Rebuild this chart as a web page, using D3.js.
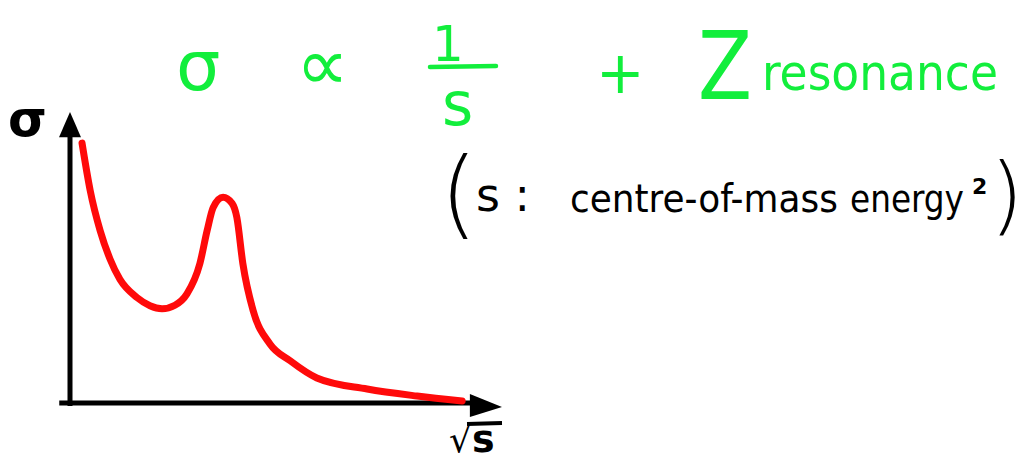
<!DOCTYPE html>
<html>
<head>
<meta charset="utf-8">
<script src="https://cdn.jsdelivr.net/npm/d3@7"></script>
<style>
  html, body { margin: 0; padding: 0; background: #fff; }
  svg { display: block; }
  text { font-family: "DejaVu Sans", sans-serif; }
  .cond { font-family: "DejaVu Sans Condensed", "DejaVu Sans", sans-serif; }
</style>
</head>
<body>
<svg id="chart" width="1029" height="461"></svg>
<script>
// Sketch of the cross-section: 1/s fall-off plus the Z resonance peak
const sqrtS = [2.8, 4.7, 7.0, 9.3, 11.6, 15.6, 18.6, 21.4, 24.4, 27.2, 30.2, 31.9, 33.3, 35.6,
               37.7, 38.8, 40.2, 42.6, 46.5, 51.2, 57.4, 69.1, 80.7, 91.2];
const sigma = [89.3, 73.0, 59.3, 49.5, 42.5, 36.2, 33.4, 32.4, 33.6, 37.5, 47.9, 59.3, 67.2, 70.7,
               68.6, 63.8, 47.9, 31.7, 20.3, 14.5, 8.6, 4.8, 2.4, 0.7];

const axisLabels = { y: "σ", x: "s" };
const formulaParts = ["σ", "∝", "1", "s", "+", "Z", "resonance"];
const noteParts = ["(", "s :", "centre-of-mass", "energy", "2", ")"];

const GREEN = "#12ee3c";
const RED = "#ff0a0a";

const svg = d3.select("#chart");
svg.append("rect").attr("width", 1029).attr("height", 461).attr("fill", "#fff");

// Scale a text's font size so that its natural width equals the given width
function fitWidth(sel, width) {
  const node = sel.node();
  const fs = +sel.attr("font-size");
  const w = node.getComputedTextLength();
  sel.attr("font-size", (fs * width / w).toFixed(2));
  return sel;
}

const x = d3.scaleLinear().domain([0, 100]).range([70, 500]);
const y = d3.scaleLinear().domain([0, 100]).range([403, 112]);

// Axes: bare domain lines, no ticks
const yAxis = d3.axisLeft(y).tickValues([]).tickSizeOuter(0);
const gy = svg.append("g").attr("transform", `translate(${x(0)},0)`).call(yAxis);
gy.select(".domain").attr("stroke", "#000").attr("stroke-width", 5)
  .attr("d", `M0,${y(-1)}V${y(92)}`);

const xAxis = d3.axisBottom(x).tickValues([]).tickSizeOuter(0);
const gx = svg.append("g").attr("transform", `translate(0,${y(0)})`).call(xAxis);
gx.select(".domain").attr("stroke", "#000").attr("stroke-width", 5)
  .attr("d", `M${x(-2.5)},0H${x(95)}`);

// Arrow heads
svg.append("path")
  .attr("d", `M${x(0)},${y(100)} L${x(0) - 11},${y(92) + 2} L${x(0) + 11},${y(92) + 2} Z`)
  .attr("fill", "#000");
svg.append("path")
  .attr("d", `M${x(100) + 2},${y(0) + 4} L${x(93)},${y(0) - 9} L${x(93)},${y(0) + 14} Z`)
  .attr("fill", "#000");

// Cross-section curve
const pts = sqrtS.map((v, i) => [v, sigma[i]]);
const line = d3.line().x(d => x(d[0])).y(d => y(d[1])).curve(d3.curveMonotoneX);
svg.append("path")
  .attr("d", line(pts))
  .attr("fill", "none")
  .attr("stroke", RED)
  .attr("stroke-width", 7)
  .attr("stroke-linecap", "round")
  .attr("stroke-linejoin", "round");

// Axis labels
svg.append("text").text(axisLabels.y)
  .attr("x", 8).attr("y", 136).attr("font-size", 50).attr("font-weight", "bold").attr("fill", "#000");

const sq = svg.append("text").attr("x", 449).attr("y", 452).attr("fill", "#000");
sq.append("tspan").text("√").attr("font-size", 36);
sq.append("tspan").text(axisLabels.x).attr("font-size", 38).attr("font-weight", "bold");
svg.append("line").attr("x1", 467).attr("x2", 502).attr("y1", 424).attr("y2", 423)
  .attr("stroke", "#000").attr("stroke-width", 4);

// Green formula
const f = svg.append("g").attr("fill", GREEN);
f.append("text").text(formulaParts[0]).attr("x", 176).attr("y", 90).attr("font-size", 70);
f.append("text").text(formulaParts[1]).attr("x", 296).attr("y", 90).attr("font-size", 74);
f.append("text").text(formulaParts[2]).attr("x", 432).attr("y", 61).attr("font-size", 50);
f.append("line").attr("x1", 430).attr("x2", 496).attr("y1", 67).attr("y2", 66)
  .attr("stroke", GREEN).attr("stroke-width", 4.5).attr("stroke-linecap", "round");
f.append("text").text(formulaParts[3]).attr("x", 442).attr("y", 125).attr("font-size", 60);
f.append("text").text(formulaParts[4]).attr("x", 596).attr("y", 93).attr("font-size", 58);
f.append("text").text(formulaParts[5]).attr("class", "cond").attr("x", 698).attr("y", 99)
  .attr("font-size", 94).attr("textLength", 54).attr("lengthAdjust", "spacingAndGlyphs");
fitWidth(f.append("text").text(formulaParts[6]).attr("class", "cond")
  .attr("x", 762).attr("y", 90).attr("font-size", 56), 236);

// Black note on s
const n = svg.append("g").attr("fill", "#000");
n.append("text").text(noteParts[0]).attr("x", 440).attr("y", 226).attr("font-size", 96)
  .attr("font-weight", 300);
n.append("text").text(noteParts[1]).attr("x", 476).attr("y", 211).attr("font-size", 46);
fitWidth(n.append("text").text(noteParts[2]).attr("class", "cond")
  .attr("x", 570).attr("y", 212).attr("font-size", 46), 268);
fitWidth(n.append("text").text(noteParts[3]).attr("class", "cond")
  .attr("x", 850).attr("y", 212).attr("font-size", 46), 114);
n.append("text").text(noteParts[4]).attr("x", 972).attr("y", 194).attr("font-size", 22)
  .attr("font-weight", "bold");
n.append("text").text(noteParts[5]).attr("x", 990).attr("y", 224).attr("font-size", 86)
  .attr("font-weight", 300);
</script>
</body>
</html>
